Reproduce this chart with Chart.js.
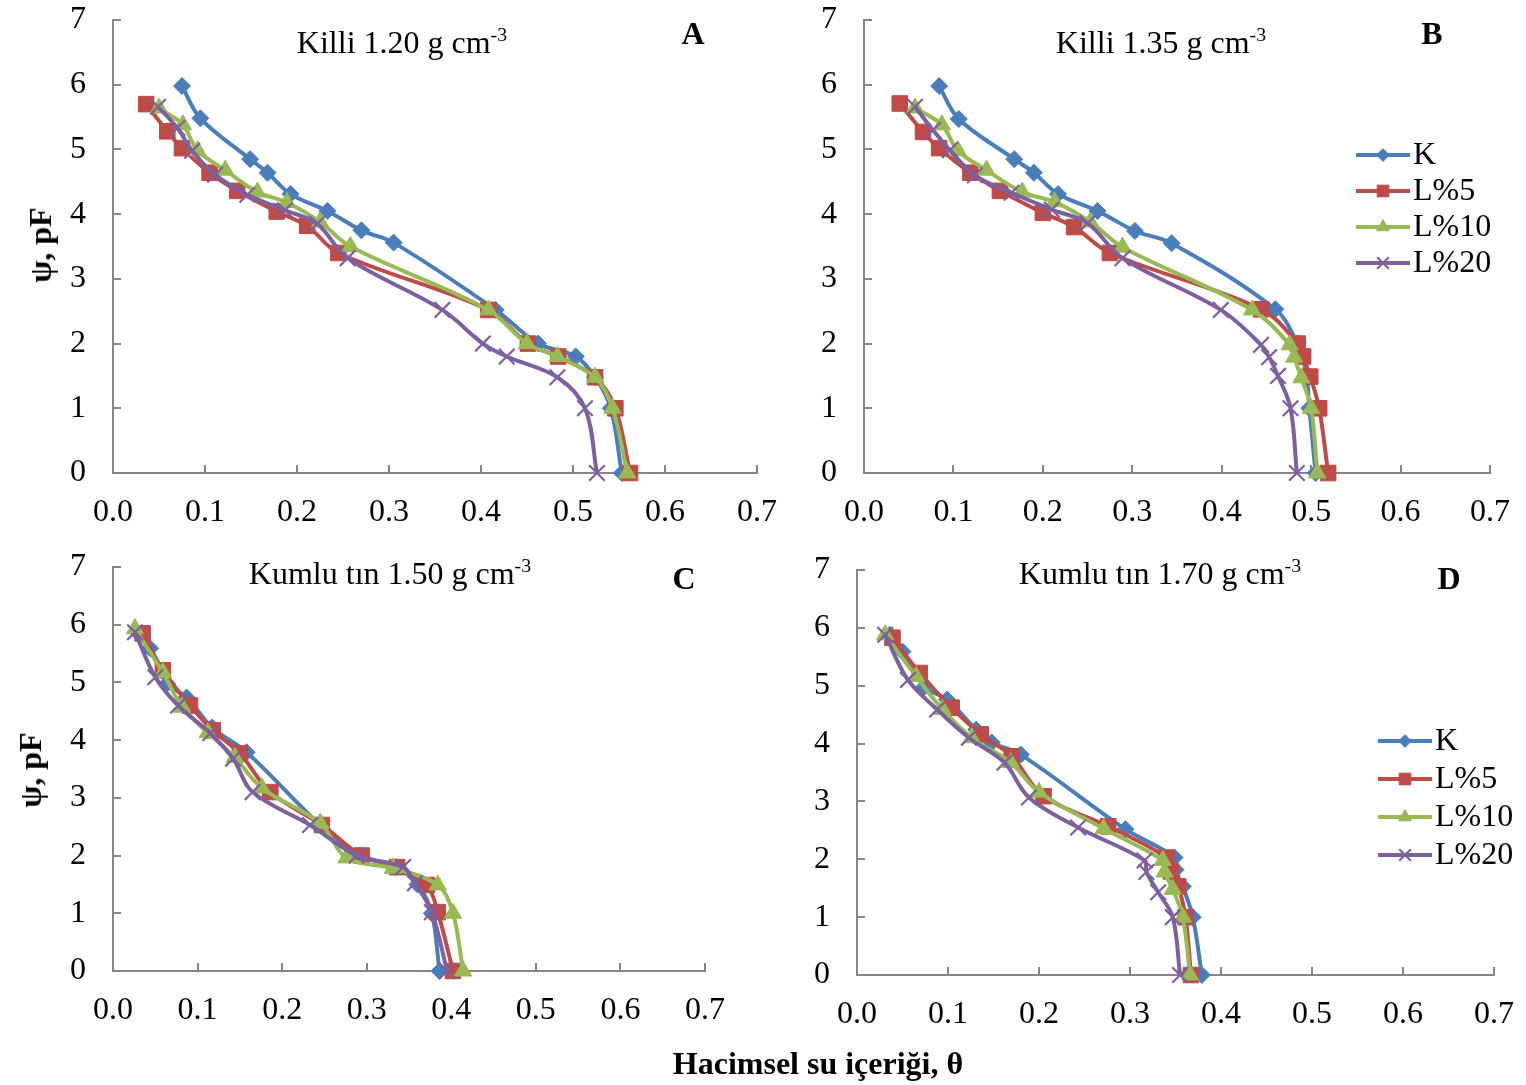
<!DOCTYPE html>
<html>
<head>
<meta charset="utf-8">
<script src="https://cdn.jsdelivr.net/npm/chart.js@4.4.1/dist/chart.umd.min.js"></script>
<style>
  body { margin: 0; background: #fff; width: 1526px; height: 1085px; overflow: hidden; position: relative;
         font-family: 'Liberation Serif', 'Times New Roman', serif; color: #000; }
  canvas { position: absolute; left: 0; top: -100px; }
  .txt { position: absolute; white-space: nowrap; font-size: 32px; line-height: 1; transform: translate(-50%, -50%); }
  .txt sup { font-size: 0.62em; vertical-align: 0.6em; line-height: 0; }
  .bold { font-weight: bold; }
  .ylab { transform: translate(-50%, -50%) rotate(-90deg); }
</style>
</head>
<body>
<canvas id="cA" width="1526" height="1185"></canvas>
<canvas id="cB" width="1526" height="1185"></canvas>
<canvas id="cC" width="1526" height="1185"></canvas>
<canvas id="cD" width="1526" height="1185"></canvas>

<div class="txt" style="left:402px; top:42px;">Killi 1.20 g cm<sup>-3</sup></div>
<div class="txt" style="left:1161px; top:42px;">Killi 1.35 g cm<sup>-3</sup></div>
<div class="txt" style="left:390px; top:573px;">Kumlu tın 1.50 g cm<sup>-3</sup></div>
<div class="txt" style="left:1160px; top:573px;">Kumlu tın 1.70 g cm<sup>-3</sup></div>
<div class="txt bold" style="left:693px; top:33px;">A</div>
<div class="txt bold" style="left:1432px; top:33px;">B</div>
<div class="txt bold" style="left:684px; top:578px;">C</div>
<div class="txt bold" style="left:1449px; top:578px;">D</div>
<div class="txt bold ylab" style="left:40px; top:245px;">ψ, pF</div>
<div class="txt bold ylab" style="left:30px; top:770px;">ψ, pF</div>
<div class="txt bold" style="left:818px; top:1063px;">Hacimsel su içeriği, θ</div>

<script>
// series
const seriesNames = ['K', 'L%5', 'L%10', 'L%20'];
const xTickValues = [0.0, 0.1, 0.2, 0.3, 0.4, 0.5, 0.6, 0.7];
const yTickValues = [0, 1, 2, 3, 4, 5, 6, 7];

// A - Killi 1.20
const A_K_theta   = [0.075, 0.095, 0.149, 0.168, 0.193, 0.233, 0.270, 0.305, 0.416, 0.462, 0.503, 0.524, 0.541, 0.553];
const A_K_pF      = [5.98, 5.48, 4.85, 4.64, 4.31, 4.05, 3.75, 3.56, 2.52, 2.0, 1.8, 1.48, 1.0, 0];
const A_L5_theta  = [0.036, 0.059, 0.075, 0.105, 0.135, 0.178, 0.211, 0.245, 0.408, 0.451, 0.484, 0.524, 0.546, 0.562];
const A_L5_pF     = [5.70, 5.28, 5.02, 4.64, 4.36, 4.04, 3.82, 3.40, 2.52, 2.0, 1.8, 1.48, 1.0, 0];
const A_L10_theta = [0.050, 0.076, 0.092, 0.122, 0.157, 0.189, 0.225, 0.258, 0.408, 0.450, 0.483, 0.524, 0.543, 0.559];
const A_L10_pF    = [5.64, 5.38, 4.98, 4.68, 4.34, 4.18, 3.88, 3.50, 2.52, 2.0, 1.8, 1.48, 1.0, 0];
const A_L20_theta = [0.049, 0.070, 0.086, 0.111, 0.146, 0.187, 0.222, 0.255, 0.358, 0.402, 0.428, 0.483, 0.513, 0.526];
const A_L20_pF    = [5.66, 5.33, 4.98, 4.61, 4.30, 4.06, 3.85, 3.32, 2.52, 2.0, 1.8, 1.48, 1.0, 0];

// B - Killi 1.35
const B_K_theta   = [0.084, 0.106, 0.168, 0.190, 0.217, 0.261, 0.303, 0.344, 0.460, 0.485, 0.490, 0.495, 0.498, 0.505];
const B_K_pF      = [5.98, 5.47, 4.85, 4.64, 4.31, 4.05, 3.74, 3.55, 2.53, 2.0, 1.8, 1.5, 1.0, 0];
const B_L5_theta  = [0.040, 0.066, 0.084, 0.119, 0.152, 0.200, 0.235, 0.275, 0.444, 0.485, 0.491, 0.499, 0.509, 0.519];
const B_L5_pF     = [5.71, 5.27, 5.02, 4.64, 4.36, 4.02, 3.80, 3.40, 2.53, 2.0, 1.8, 1.49, 1.0, 0];
const B_L10_theta = [0.057, 0.087, 0.105, 0.137, 0.177, 0.213, 0.253, 0.289, 0.434, 0.476, 0.481, 0.489, 0.500, 0.507];
const B_L10_pF    = [5.64, 5.38, 4.98, 4.68, 4.34, 4.19, 3.88, 3.49, 2.52, 1.98, 1.79, 1.47, 1.0, 0];
const B_L20_theta = [0.057, 0.077, 0.096, 0.124, 0.165, 0.210, 0.250, 0.289, 0.399, 0.444, 0.453, 0.463, 0.477, 0.484];
const B_L20_pF    = [5.66, 5.30, 4.99, 4.60, 4.33, 4.07, 3.86, 3.32, 2.52, 1.98, 1.79, 1.5, 1.0, 0];

// C - Kumlu tın 1.50
const C_K_theta   = [0.028, 0.044, 0.064, 0.087, 0.117, 0.158, 0.245, 0.292, 0.335, 0.360, 0.377, 0.386];
const C_K_pF      = [5.88, 5.59, 4.98, 4.74, 4.22, 3.79, 2.53, 2.0, 1.8, 1.5, 1.0, 0];
const C_L5_theta  = [0.035, 0.059, 0.091, 0.118, 0.150, 0.186, 0.247, 0.294, 0.336, 0.371, 0.384, 0.402];
const C_L5_pF     = [5.85, 5.21, 4.6, 4.17, 3.77, 3.1, 2.53, 2.0, 1.8, 1.49, 1.02, 0];
const C_L10_theta = [0.026, 0.059, 0.082, 0.112, 0.144, 0.176, 0.245, 0.276, 0.331, 0.384, 0.402, 0.414];
const C_L10_pF    = [5.93, 5.17, 4.57, 4.13, 3.7, 3.17, 2.56, 1.96, 1.78, 1.49, 1.0, 0];
const C_L20_theta = [0.026, 0.050, 0.077, 0.115, 0.142, 0.165, 0.233, 0.288, 0.343, 0.357, 0.377, 0.395];
const C_L20_pF    = [5.87, 5.09, 4.6, 4.12, 3.68, 3.1, 2.53, 2.0, 1.8, 1.52, 1.02, 0];

// D - Kumlu tın 1.70
const D_K_theta   = [0.036, 0.050, 0.074, 0.099, 0.131, 0.148, 0.180, 0.295, 0.349, 0.350, 0.358, 0.369, 0.379];
const D_K_pF      = [5.88, 5.59, 4.98, 4.76, 4.24, 4.02, 3.81, 2.52, 2.03, 1.82, 1.53, 1.0, 0];
const D_L5_theta  = [0.039, 0.069, 0.104, 0.136, 0.170, 0.205, 0.276, 0.340, 0.345, 0.353, 0.361, 0.367];
const D_L5_pF     = [5.83, 5.22, 4.62, 4.16, 3.78, 3.09, 2.57, 2.03, 1.79, 1.53, 1.0, 0];
const D_L10_theta = [0.031, 0.065, 0.094, 0.126, 0.169, 0.200, 0.271, 0.336, 0.338, 0.347, 0.358, 0.366];
const D_L10_pF    = [5.88, 5.16, 4.59, 4.1, 3.67, 3.16, 2.53, 1.98, 1.78, 1.48, 1.0, 0];
const D_L20_theta = [0.031, 0.056, 0.088, 0.123, 0.162, 0.189, 0.243, 0.316, 0.318, 0.331, 0.347, 0.355];
const D_L20_pF    = [5.88, 5.1, 4.59, 4.1, 3.67, 3.07, 2.55, 1.98, 1.78, 1.43, 1.0, 0];

// styles
const colors = ['#4A7EBB', '#BE4B48', '#98B954', '#7D60A0'];
const markers = ['rectRot', 'rect', 'triangle', 'crossRot'];
const markerSize = [8.5, 11, 10, 11];
const axisColor = '#868686';
const fontFamily = "'Liberation Serif', 'Times New Roman', serif";
const W = 1526, H = 1085, OFF = 100;   // canvases start 100px above the page

// inward tick marks like the Excel original
const innerTicks = {
  id: 'innerTicks',
  beforeDatasetsDraw(chart) {
    const { ctx, chartArea: a, scales: { x, y } } = chart;
    ctx.save();
    ctx.strokeStyle = axisColor;
    ctx.lineWidth = 2;
    ctx.beginPath();
    x.ticks.forEach(t => {
      const px = Math.round(x.getPixelForValue(t.value));
      ctx.moveTo(px, a.bottom); ctx.lineTo(px, a.bottom - 8);
    });
    y.ticks.forEach(t => {
      const py = Math.round(y.getPixelForValue(t.value));
      ctx.moveTo(a.left, py); ctx.lineTo(a.left + 8, py);
    });
    ctx.stroke();
    ctx.restore();
  }
};

// legend at the right, drawn from the datasets
const sideLegend = {
  id: 'sideLegend',
  afterDraw(chart, args, opts) {
    if (!opts || opts.x === undefined) return;
    const ctx = chart.ctx;
    chart.data.datasets.forEach((ds, i) => {
      const y = opts.y + OFF + i * opts.gap;
      ctx.save();
      ctx.strokeStyle = ds.borderColor;
      ctx.lineWidth = 4;
      ctx.beginPath();
      ctx.moveTo(opts.x, y);
      ctx.lineTo(opts.x + opts.len, y);
      ctx.stroke();
      ctx.fillStyle = ds.backgroundColor;
      ctx.lineWidth = ds.pointBorderWidth;
      Chart.helpers.drawPoint(ctx, {
        pointStyle: ds.pointStyle, radius: ds.pointRadius * 0.75,
        borderWidth: ds.pointBorderWidth, rotation: 0
      }, opts.x + opts.len / 2, y);
      ctx.fillStyle = '#000';
      ctx.font = '32px ' + fontFamily;
      ctx.textBaseline = 'middle';
      ctx.textAlign = 'left';
      ctx.fillText(ds.label, opts.x + opts.len + 3, y + 1);
      ctx.restore();
    });
  }
};

function panel(id, thetas, pFs, area, legend) {
  const datasets = seriesNames.map((name, i) => ({
    label: name,
    data: thetas[i].map((t, j) => ({ x: t, y: pFs[i][j] })),
    showLine: true,
    borderColor: colors[i],
    backgroundColor: colors[i],
    borderWidth: 4,
    tension: 0.35,
    pointStyle: markers[i],
    pointRadius: markerSize[i],
    pointBorderWidth: i === 3 ? 2.2 : 1,
    pointBorderColor: colors[i],
    pointBackgroundColor: colors[i],
    clip: false,
    order: 4 - i
  }));

  new Chart(document.getElementById(id), {
    type: 'scatter',
    data: { datasets },
    options: {
      responsive: false,
      animation: false,
      devicePixelRatio: 1,
      layout: {
        padding: { left: area.left - 60, right: W - area.right, top: area.top + OFF, bottom: H - area.bottom - 60 }
      },
      plugins: {
        legend: { display: false },
        tooltip: { enabled: false },
        sideLegend: legend || false
      },
      scales: {
        x: {
          type: 'linear', min: 0, max: 0.7,
          afterBuildTicks: s => { s.ticks = xTickValues.map(v => ({ value: v })); },
          afterFit: s => { s.height = 60; },
          grid: { display: false },
          border: { display: true, color: axisColor, width: 2 },
          ticks: { color: '#000', font: { family: fontFamily, size: 32 }, padding: 12,
                   maxRotation: 0, callback: v => v.toFixed(1) }
        },
        y: {
          type: 'linear', min: 0, max: 7,
          afterBuildTicks: s => { s.ticks = yTickValues.map(v => ({ value: v })); },
          afterFit: s => { s.width = 60; },
          grid: { display: false },
          border: { display: true, color: axisColor, width: 2 },
          ticks: { color: '#000', font: { family: fontFamily, size: 32 }, padding: 19 }
        }
      }
    },
    plugins: [innerTicks, sideLegend]
  });
}

panel('cA', [A_K_theta, A_L5_theta, A_L10_theta, A_L20_theta], [A_K_pF, A_L5_pF, A_L10_pF, A_L20_pF],
      { left: 113, right: 757, top: 20, bottom: 473 });
panel('cB', [B_K_theta, B_L5_theta, B_L10_theta, B_L20_theta], [B_K_pF, B_L5_pF, B_L10_pF, B_L20_pF],
      { left: 864, right: 1490, top: 20, bottom: 473 }, { x: 1356, y: 155, gap: 36, len: 54 });
panel('cC', [C_K_theta, C_L5_theta, C_L10_theta, C_L20_theta], [C_K_pF, C_L5_pF, C_L10_pF, C_L20_pF],
      { left: 113, right: 705, top: 567, bottom: 971 });
panel('cD', [D_K_theta, D_L5_theta, D_L10_theta, D_L20_theta], [D_K_pF, D_L5_pF, D_L10_pF, D_L20_pF],
      { left: 857, right: 1499, top: 570, bottom: 975 }, { x: 1378, y: 741, gap: 38, len: 54 });
</script>
</body>
</html>
